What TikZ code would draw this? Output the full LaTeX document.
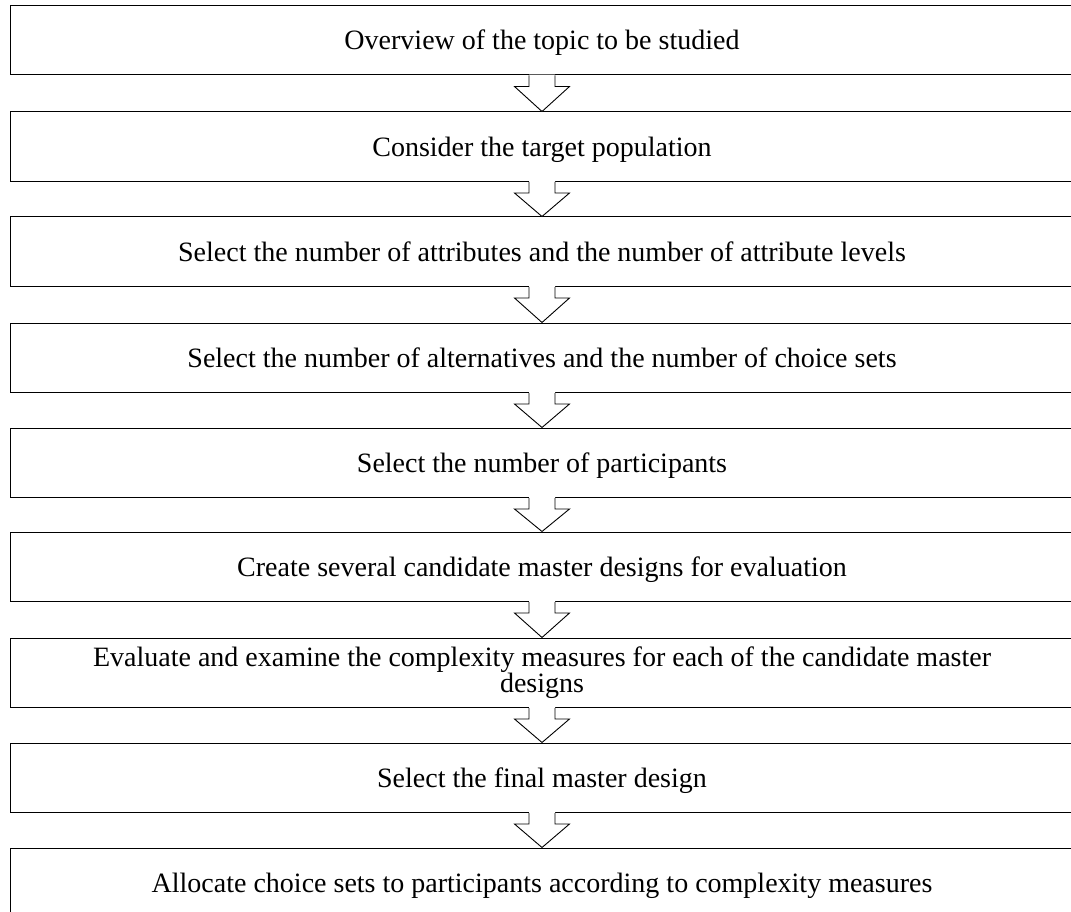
\documentclass[tikz,border=0pt]{standalone}
\usepackage{fontspec}
\setmainfont{Liberation Serif}
\usetikzlibrary{calc}
\begin{document}
\begin{tikzpicture}[x=1pt,y=-1pt,
  stepbox/.style={draw=black, line width=1pt, minimum width=1063pt, minimum height=69.5pt,
    inner sep=0pt, align=center, font=\fontsize{28}{26}\selectfont},
  onebox/.style={stepbox, text height=19.5pt, text depth=0pt},
  flowarrow/.style={draw=black, line width=0.9pt, line join=miter}]
\useasboundingbox (0,0) rectangle (1071,912);
\clip (0,0) rectangle (1071,912);
\node[onebox] (b1) at (542,40.25) {Overview of the topic to be studied};
\node[onebox] (b2) at (542,146.75) {Consider the target population};
\node[onebox] (b3) at (542,251.75) {Select the number of attributes and the number of attribute levels};
\node[onebox] (b4) at (542,357.75) {Select the number of alternatives and the number of choice sets};
\node[onebox] (b5) at (542,462.75) {Select the number of participants};
\node[onebox] (b6) at (542,566.75) {Create several candidate master designs for evaluation};
\node[stepbox] (b7) at (542,672.75) {Evaluate and examine the complexity measures for each of the candidate master\\designs};
\node[onebox] (b8) at (542,777.75) {Select the final master design};
\node[onebox] (b9) at (542,882.75) {Allocate choice sets to participants according to complexity measures};
\foreach \a/\b in {b1/b2,b2/b3,b3/b4,b4/b5,b5/b6,b6/b7,b7/b8,b8/b9} {
  \fill[white] ($(\a.south)+(-13,-0.8)$) -- ++(0,11.8) -- ++(-14.5,0) -- (\b.north)
     -- ($(\a.south)+(27.5,11)$) -- ++(-14.5,0) -- ++(0,-11.8) -- cycle;
  \draw[flowarrow] ($(\a.south)+(-13,0)$) -- ++(0,11) -- ++(-14.5,0) -- (\b.north)
     -- ($(\a.south)+(27.5,11)$) -- ++(-14.5,0) -- ++(0,-11);
}
\end{tikzpicture}
\end{document}
